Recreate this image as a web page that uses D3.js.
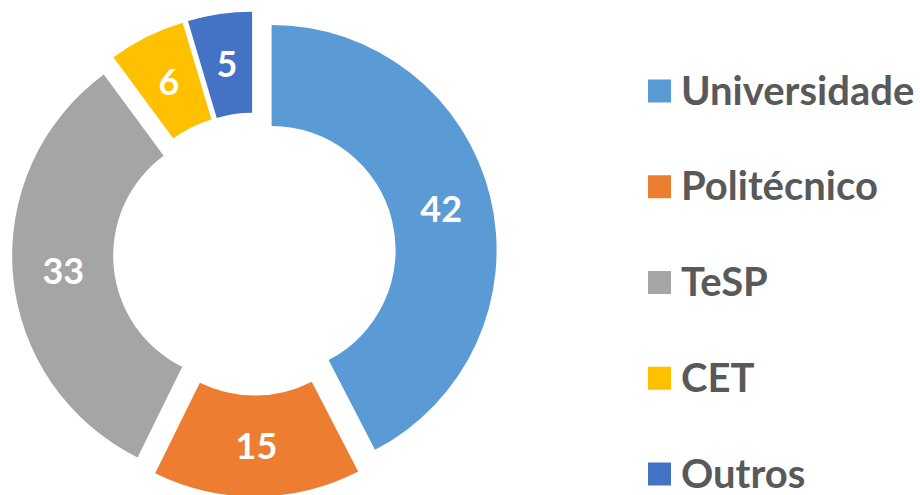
<!DOCTYPE html>
<html>
<head>
<meta charset="utf-8">
<script src="https://cdn.jsdelivr.net/npm/d3@7"></script>
<style>
    body { margin: 0; background: #fff; }
    svg { display: block; font-family: Lato, 'Open Sans', sans-serif; }
</style>
</head>
<body>
<div id="chart"></div>
<script>
// shares, labels show them rounded
const categories = ['Universidade', 'Politécnico', 'TeSP', 'CET', 'Outros'];
const values = [42.4, 14.9, 32.6, 5.5, 4.6];
const colors = ['#5B9BD5', '#ED7D31', '#A5A5A5', '#FFC000', '#4472C4'];

const width = 920, height = 495;
const cx = 254.6, cy = 254.1;
const outerRadius = 225, innerRadius = 124;
const explode = 17.5;

const svg = d3.select('#chart')
    .append('svg')
    .attr('width', width)
    .attr('height', height);

const data = categories.map((name, i) => ({ name: name, value: values[i], color: colors[i] }));

const pie = d3.pie()
    .value(d => d.value)
    .sort(null);

const arc = d3.arc()
    .innerRadius(innerRadius)
    .outerRadius(outerRadius);

const fmt = d3.format('.0f');

const g = svg.append('g')
    .attr('transform', 'translate(' + cx + ',' + cy + ')');

const slices = g.selectAll('g.slice')
    .data(pie(data))
    .enter().append('g')
    .attr('class', 'slice')
    .attr('transform', d => {
        const a = (d.startAngle + d.endAngle) / 2;
        return 'translate(' + (Math.sin(a) * explode) + ',' + (-Math.cos(a) * explode) + ')';
    });

slices.append('path')
    .attr('d', arc)
    .attr('fill', d => d.data.color);

// data labels
slices.append('text')
    .attr('transform', d => 'translate(' + arc.centroid(d) + ')')
    .attr('dy', '0.36em')
    .attr('text-anchor', 'middle')
    .attr('font-size', 36)
    .attr('font-weight', 'bold')
    .attr('fill', '#fff')
    .text(d => fmt(d.data.value));

// legend
const legendY = d3.scalePoint()
    .domain(categories)
    .range([91, 474]);

const legend = svg.append('g')
    .attr('class', 'legend')
    .selectAll('g')
    .data(data)
    .enter().append('g')
    .attr('transform', d => 'translate(648,' + legendY(d.name) + ')');

legend.append('rect')
    .attr('x', 0)
    .attr('y', -11.5)
    .attr('width', 23)
    .attr('height', 23)
    .attr('fill', d => d.color);

legend.append('text')
    .attr('x', 33)
    .attr('y', 13.5)
    .attr('font-size', 40)
    .attr('font-weight', 'bold')
    .attr('fill', '#595959')
    .text(d => d.name);
</script>
</body>
</html>
